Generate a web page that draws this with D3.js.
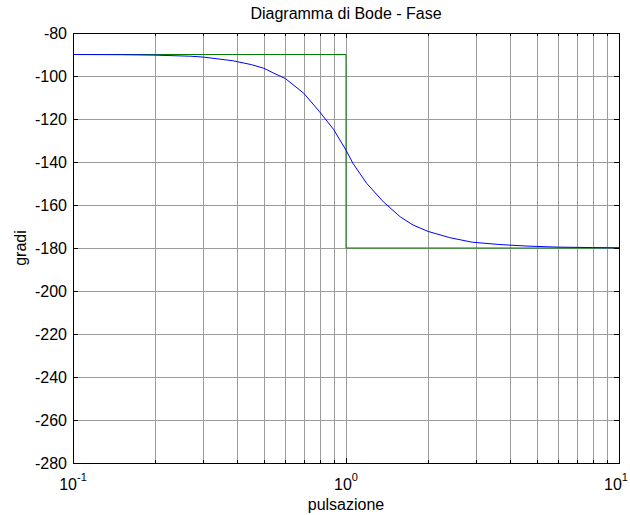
<!DOCTYPE html>
<html>
<head>
<meta charset="utf-8">
<script src="https://cdn.jsdelivr.net/npm/d3@7"></script>
<style>
  body { margin: 0; background: #fff; }
  text { font-family: "Liberation Sans", Arial, sans-serif; fill: #000; }
</style>
</head>
<body>
<div id="chart"></div>
<script>
var width = 630,
    height = 515;

var margin = {left: 73, top: 33, right: 11, bottom: 52};

// pulsazione (rad/s) and fase (gradi)
var omega = [0.1, 0.15, 0.2, 0.27, 0.3, 0.385, 0.45, 0.5, 0.54, 0.6, 0.7, 0.8, 0.9,
             1.0, 1.06, 1.19, 1.37, 1.58, 1.76, 2.0, 2.4, 2.9, 3.66, 4.6, 6, 8, 10];
var phase = [-90, -90.1, -90.3, -90.8, -91.2, -92.9, -94.7, -96.4, -98.5, -101.2, -108, -116.6, -124.8,
             -134.5, -140.6, -149.9, -158.5, -165.5, -169.3, -172.3, -175.2, -177.3, -178.4, -179.1, -179.6, -179.8, -179.9];

// asymptotic approximation
var asymW = [0.1, 1, 1, 10];
var asymP = [-90, -90, -180, -180];

var yTicks = [-280, -260, -240, -220, -200, -180, -160, -140, -120, -100, -80];
var xDecades = [-1, 0, 1];

var x = d3.scaleLog()
    .domain([0.1, 10])
    .range([margin.left, width - margin.right]);

var y = d3.scaleLinear()
    .domain([-280, -80])
    .range([height - margin.bottom, margin.top]);

var svg = d3.select("#chart").append("svg")
    .attr("width", width)
    .attr("height", height);

var x0 = x.range()[0], x1 = x.range()[1],
    y0 = y.range()[1], y1 = y.range()[0];

// minor + major x positions
var xGrid = [];
for (var d = -1; d < 1; d++) {
  for (var k = 1; k < 10; k++) xGrid.push(k * Math.pow(10, d));
}
xGrid.push(10);

var grid = svg.append("g");
grid.selectAll("line.vx")
    .data(xGrid.filter(function (v) { return v > 0.1 && v < 10; }))
    .enter().append("line")
    .attr("x1", function (v) { return Math.round(x(v)) + 0.5; })
    .attr("x2", function (v) { return Math.round(x(v)) + 0.5; })
    .attr("y1", y0).attr("y2", y1)
    .attr("stroke", "#9c9c9c")
    .attr("stroke-width", 1);

grid.selectAll("line.hy")
    .data(yTicks.filter(function (v) { return v > -280 && v < -80; }))
    .enter().append("line")
    .attr("y1", function (v) { return Math.round(y(v)) + 0.5; })
    .attr("y2", function (v) { return Math.round(y(v)) + 0.5; })
    .attr("x1", x0).attr("x2", x1)
    .attr("stroke", "#9c9c9c")
    .attr("stroke-width", 1);

var line = d3.line()
    .x(function (d) { return x(d[0]); })
    .y(function (d) { return y(d[1]); });

svg.append("path")
    .datum(d3.zip(asymW, asymP))
    .attr("d", line)
    .attr("fill", "none")
    .attr("stroke", "#007f00")
    .attr("stroke-width", 1);

svg.append("path")
    .datum(d3.zip(omega, phase))
    .attr("d", line)
    .attr("fill", "none")
    .attr("stroke", "#0000ff")
    .attr("stroke-width", 1);

// frame
svg.append("rect")
    .attr("x", x0 + 0.5).attr("y", y0 + 0.5)
    .attr("width", x1 - x0).attr("height", y1 - y0)
    .attr("fill", "none")
    .attr("stroke", "#000")
    .attr("stroke-width", 1);

// ticks inward
var ticks = svg.append("g").attr("stroke", "#000").attr("stroke-width", 1);
xGrid.forEach(function (v) {
  var px = Math.round(x(v)) + 0.5;
  var len = Math.abs(Math.log10(v) % 1) < 1e-9 ? 5 : 3;
  ticks.append("line").attr("x1", px).attr("x2", px).attr("y1", y1).attr("y2", y1 - len);
  ticks.append("line").attr("x1", px).attr("x2", px).attr("y1", y0).attr("y2", y0 + len);
});
yTicks.forEach(function (v) {
  var py = Math.round(y(v)) + 0.5;
  ticks.append("line").attr("x1", x0).attr("x2", x0 + 5).attr("y1", py).attr("y2", py);
  ticks.append("line").attr("x1", x1).attr("x2", x1 - 5).attr("y1", py).attr("y2", py);
});

// y labels
svg.append("g").selectAll("text")
    .data(yTicks)
    .enter().append("text")
    .attr("x", x0 - 6)
    .attr("y", function (v) { return y(v) + 6; })
    .attr("text-anchor", "end")
    .style("font-size", "16px")
    .text(function (v) { return v; });

// x labels 10^n (the last one is pulled in so it stays on the page)
var xl = svg.append("g").selectAll("text")
    .data(xDecades)
    .enter().append("text")
    .attr("x", function (e) { return Math.min(x(Math.pow(10, e)), width - 14); })
    .attr("y", 490)
    .attr("text-anchor", "middle")
    .style("font-size", "16px");
xl.append("tspan").text("10");
xl.append("tspan")
    .attr("dy", -9)
    .style("font-size", "11px")
    .text(function (e) { return e; });

svg.append("text")
    .attr("x", (x0 + x1) / 2)
    .attr("y", 510)
    .attr("text-anchor", "middle")
    .style("font-size", "16px")
    .text("pulsazione");

svg.append("text")
    .attr("transform", "translate(26," + ((y0 + y1) / 2) + ") rotate(-90)")
    .attr("text-anchor", "middle")
    .style("font-size", "16px")
    .text("gradi");

svg.append("text")
    .attr("x", (x0 + x1) / 2)
    .attr("y", 19)
    .attr("text-anchor", "middle")
    .style("font-size", "16px")
    .text("Diagramma di Bode - Fase");
</script>
</body>
</html>
